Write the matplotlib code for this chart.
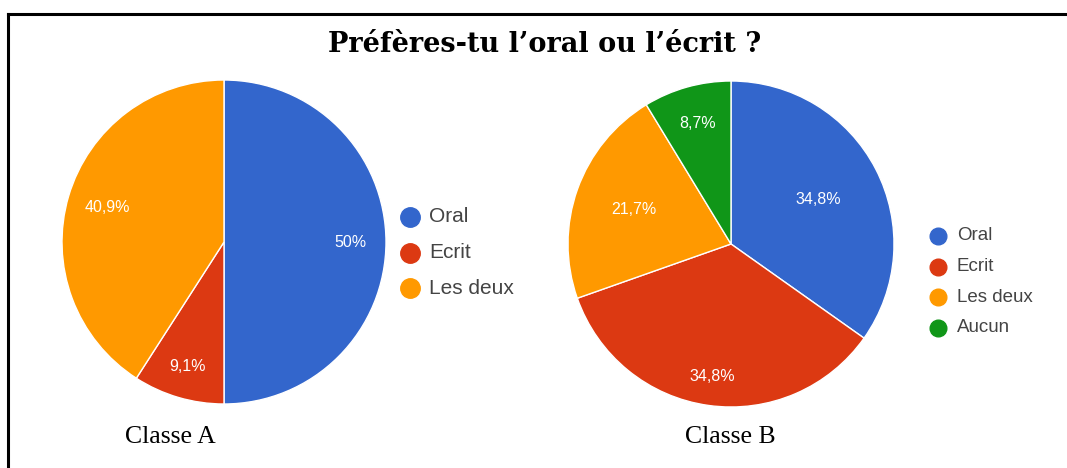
import matplotlib
matplotlib.use("Agg")
import matplotlib.pyplot as plt
import numpy as np
from matplotlib.lines import Line2D

title = "Préfères-tu l’oral ou l’écrit ?"
labels_a = ["Oral", "Ecrit", "Les deux"]
values_a = [50.0, 9.1, 40.9]
pct_a = ["50%", "9,1%", "40,9%"]
labels_b = ["Oral", "Ecrit", "Les deux", "Aucun"]
values_b = [34.8, 34.8, 21.7, 8.7]
pct_b = ["34,8%", "34,8%", "21,7%", "8,7%"]
class_names = ["Classe A", "Classe B"]
colors = ["#3366CC", "#DC3912", "#FF9900", "#109618"]

W, H = 1067, 468
fig = plt.figure(figsize=(W / 100, H / 100), dpi=100)
fig.patch.set_facecolor("white")

# border box (clipped on right and bottom)
fig.add_artist(Line2D([8 / W, 8 / W], [0, 1 - 14 / H], color="black", lw=2.2))
fig.add_artist(Line2D([8 / W, 1], [1 - 14 / H, 1 - 14 / H], color="black", lw=2.2))

fig.text(545 / W, 1 - 44 / H, title, ha="center", va="center",
         fontsize=19.5, fontweight="bold", family="DejaVu Serif")


def draw_pie(cx, cy, r, values, pcts, dists, legend_labels, leg_x, leg_y0, leg_dy, fs, ms):
    ax = fig.add_axes([(cx - r) / W, 1 - (cy + r) / H, 2 * r / W, 2 * r / H])
    wedges, _ = ax.pie(values, colors=colors[:len(values)], startangle=90,
                       counterclock=False, radius=1,
                       wedgeprops=dict(edgecolor="white", linewidth=1))
    ax.set_xlim(-1, 1)
    ax.set_ylim(-1, 1)
    ax.set_aspect("equal")
    ax.axis("off")
    for w, p, d in zip(wedges, pcts, dists):
        ang = np.deg2rad((w.theta1 + w.theta2) / 2)
        ax.text(d * np.cos(ang), d * np.sin(ang), p, ha="center", va="center",
                color="white", fontsize=11.5, family="Liberation Sans")
    for i, lab in enumerate(legend_labels):
        y = leg_y0 + i * leg_dy
        fig.add_artist(Line2D([leg_x / W], [1 - y / H], marker="o", markersize=ms,
                              color=colors[i], linestyle="none"))
        fig.text((leg_x + 19) / W, 1 - y / H, lab, ha="left", va="center",
                 fontsize=fs, color="#444444", family="Liberation Sans")


draw_pie(224, 242, 162, values_a, pct_a, [0.78, 0.80, 0.75],
         labels_a, 410, 217, 35.5, 15, 14)
draw_pie(731, 244, 163, values_b, pct_b, [0.60, 0.82, 0.63, 0.77],
         labels_b, 938, 236, 30.5, 13.5, 12)

fig.text(170 / W, 1 - 437 / H, class_names[0], ha="center", va="center",
         fontsize=18.5, family="Liberation Serif")
fig.text(730 / W, 1 - 437 / H, class_names[1], ha="center", va="center",
         fontsize=18.5, family="Liberation Serif")

fig.savefig("out.png", dpi=100)
